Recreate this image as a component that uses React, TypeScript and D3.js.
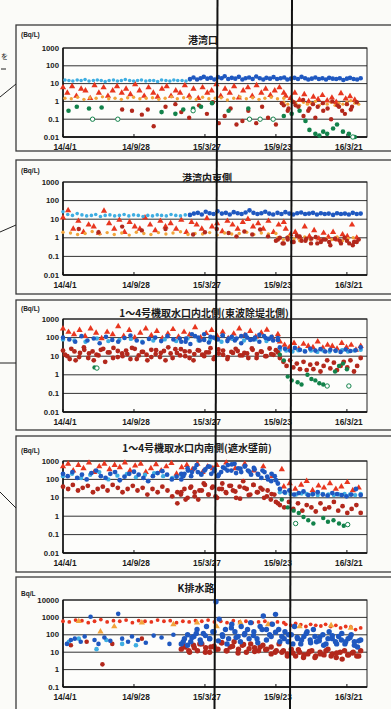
import React from 'react';
import * as d3 from 'd3';

// Monitoring data around the port (Bq/L, log scale)
// Each run = evenly spaced samples between two day offsets from 2014/4/1; pts = [day, value]

const START = new Date(2014, 3, 1);
const END = new Date(2016, 4, 11);
const X_TICK_DAYS = [0, 180, 360, 540, 720];
const X_TICK_LABELS = ['14/4/1', '14/9/28', '15/3/27', '15/9/23', '16/3/21'];

type Pt = [number, number];
type Run = { from: number; to: number; vals: number[] };

// ---- 港湾口 ----
const p1LightBlue: Run[] = [
  { from: 5, to: 322, vals: [16, 15, 14, 16, 15, 17, 14, 15, 16, 15, 13, 15, 16, 14, 15, 17, 15, 14, 15, 16, 14, 15, 15, 13, 16, 15, 14, 16, 15, 15, 14, 16] },
];
const p1Blue: Run[] = [
  { from: 322, to: 755, vals: [18, 22, 17, 20, 24, 19, 21, 17, 23, 20, 26, 18, 21, 19, 24, 17, 20, 22, 18, 25, 20, 17, 21, 19, 23, 18, 20, 22, 17, 19, 21, 18, 24, 20, 17, 19, 22, 18, 20, 17, 21, 19, 18, 20, 16, 19, 21, 18, 17, 20] },
];
const p1RedTri: Run[] = [
  { from: 0, to: 560, vals: [6, 3, 7, 2, 5, 4, 1.5, 8, 3, 6, 2, 4, 7, 3, 5, 2.5, 9, 4, 2, 6, 3, 1.8, 5, 7, 2, 4, 3, 8, 2, 5, 1.5, 6, 3, 4, 9, 2, 5, 3, 7, 1.6, 4, 6, 2, 8, 3, 5, 2.2, 4, 6, 3] },
  { from: 565, to: 740, vals: [2, 1.5, 3, 1.2, 2.5, 1, 1.8, 1.3, 2.2, 1.1, 1.6, 0.9, 2.8, 1.4, 1.9, 1.2] },
];
const p1Orange: Run[] = [
  { from: 5, to: 560, vals: [1.5, 1.4, 1.7, 1.3, 1.6, 1.5, 1.8, 1.4, 1.5, 1.3, 1.6, 1.7, 1.4, 1.5, 1.6, 1.3, 1.5, 1.8, 1.4, 1.6, 1.5, 1.3, 1.7, 1.4, 1.5, 1.6, 1.2, 1.5, 1.8, 1.4, 1.6, 1.3, 1.5, 1.7, 1.4, 1.5] },
  { from: 560, to: 750, vals: [0.9, 0.7, 1, 0.8, 0.6, 0.9, 0.7, 0.8, 1, 0.6, 0.8, 0.7, 0.9, 0.6, 0.8, 0.7, 0.9, 1.1, 0.8, 0.7] },
];
const p1DarkRed: Pt[] = [
  [150, 0.35], [175, 0.3], [200, 0.18], [215, 0.35], [230, 0.04], [260, 0.5], [285, 0.7], [300, 0.25], [320, 0.12], [345, 0.6],
  [365, 0.2], [380, 0.9], [395, 0.06], [410, 0.15], [425, 0.4], [440, 0.05], [455, 0.08], [470, 0.3], [490, 0.06], [505, 0.5],
  [520, 0.12], [540, 0.05], [555, 0.8], [570, 0.3], [590, 0.6], [610, 0.15], [625, 0.4], [640, 0.12], [660, 0.3], [680, 0.1],
  [700, 0.5], [715, 0.2], [730, 0.35],
];
const p1DarkRedLate: Run[] = [
  { from: 560, to: 745, vals: [0.6, 0.4, 0.9, 0.5, 1.2, 0.3, 0.7, 0.5, 0.8, 0.4, 1, 0.6, 0.3, 0.7, 0.5, 0.9] },
];
const p1Green: Pt[] = [
  [14, 0.3], [35, 0.5], [66, 0.4], [98, 0.45], [250, 0.25], [285, 0.2], [305, 0.35], [330, 0.4], [350, 0.5], [378, 0.8],
  [420, 0.3], [470, 0.4], [560, 0.15], [580, 0.2], [600, 0.3], [615, 0.08], [625, 0.025], [640, 0.015], [650, 0.012],
  [660, 0.02], [670, 0.015], [685, 0.03], [695, 0.05], [710, 0.02], [725, 0.015], [740, 0.01],
];
const p1GreenOpen: Pt[] = [[75, 0.1], [139, 0.1], [330, 0.3], [473, 0.1], [500, 0.1], [533, 0.1], [735, 0.01]];

// ---- 港湾内東側 ----
const p2LightBlue: Run[] = [
  { from: 0, to: 322, vals: [25, 18, 16, 20, 17, 15, 16, 18, 14, 16, 17, 15, 16, 18, 15, 17, 16, 14, 16, 15, 17, 16, 15, 18, 16, 15, 17, 16] },
];
const p2Blue: Run[] = [
  { from: 322, to: 755, vals: [17, 20, 22, 18, 25, 21, 19, 27, 20, 22, 18, 24, 21, 19, 23, 30, 22, 19, 21, 25, 20, 18, 22, 19, 24, 20, 18, 21, 23, 19, 20, 22, 18, 21, 19, 20, 17, 21, 19, 20, 18, 22, 19, 20] },
];
const p2RedTri: Run[] = [
  { from: 0, to: 560, vals: [12, 30, 3, 8, 2, 5, 4, 1.8, 28, 6, 3, 9, 2, 7, 4, 3, 12, 5, 2.5, 8, 4, 6, 3, 9, 2, 7, 5, 3, 11, 4, 6, 2.2, 8, 5, 3, 7, 10, 4, 6, 3, 8, 2, 5, 7] },
  { from: 565, to: 745, vals: [3, 1.5, 2, 1, 4, 1.2, 2.5, 0.9, 1.8, 1.1, 2, 0.8, 1.5, 1.2, 5, 1] },
];
const p2Orange: Run[] = [
  { from: 0, to: 540, vals: [2, 1.8, 1.5, 1.7, 2.2, 1.6, 1.9, 1.5, 1.8, 1.4, 2, 1.7, 1.5, 1.9, 1.6, 1.8, 2.1, 1.5, 1.7, 1.6, 1.9, 1.4, 1.8, 1.6, 1.7, 2, 1.5, 1.8, 1.6, 1.7] },
  { from: 545, to: 750, vals: [1, 0.8, 1.2, 0.9, 0.7, 1.1, 0.8, 1, 0.6, 0.9, 0.8, 1.1, 0.7, 0.9, 1, 0.8] },
];
const p2DarkRed: Pt[] = [
  [40, 3], [90, 2], [150, 4], [200, 2.5], [260, 3], [330, 1.5], [360, 2], [390, 3], [420, 1.8], [440, 1.2], [460, 2.2],
  [480, 1.5], [500, 2.8], [520, 1.2], [540, 0.7], [550, 1], [560, 0.5], [570, 0.8], [585, 0.6], [600, 1.2], [615, 0.7],
  [630, 0.9], [645, 0.5], [660, 0.8], [675, 0.6], [690, 0.9], [705, 0.5], [720, 0.7], [735, 0.4], [745, 0.6],
];
const p2DarkRedLate: Run[] = [
  { from: 545, to: 750, vals: [0.8, 0.5, 1, 0.6, 1.3, 0.7, 0.9, 0.5, 1.1, 0.6, 0.8, 0.4, 0.9, 0.7, 1, 0.5, 0.6, 0.8] },
];

// ---- 1～4号機取水口内北側(東波除堤北側) ----
const p3RedTri: Run[] = [
  { from: 0, to: 545, vals: [300, 200, 150, 250, 120, 300, 180, 90, 200, 150, 400, 120, 250, 100, 180, 300, 130, 220, 90, 160, 280, 110, 200, 140, 350, 100, 170, 250, 120, 200, 90, 160, 300, 130, 220, 110, 180, 260, 100, 150] },
  { from: 550, to: 755, vals: [60, 40, 30, 50, 25, 45, 35, 30, 60, 28, 40, 35, 25, 50, 30, 40, 22, 35] },
];
const p3Blue: Run[] = [
  { from: 0, to: 545, vals: [100, 80, 60, 120, 70, 90, 50, 110, 75, 60, 95, 130, 70, 55, 85, 100, 65, 120, 80, 90, 60, 150, 100, 75, 110, 85, 130, 90, 70, 120, 100, 80, 140, 95, 110, 75] },
  { from: 300, to: 545, vals: [60, 90, 45, 120, 70, 150, 55, 100, 80, 130, 65, 110, 90, 50, 140, 75, 100, 60, 120, 85, 70, 95] },
  { from: 550, to: 755, vals: [30, 25, 20, 28, 22, 18, 25, 20, 24, 18, 22, 20, 17, 23, 19, 21, 30] },
];
const p3LightBlue: Run[] = [
  { from: 0, to: 545, vals: [80, 70, 60, 90, 65, 75, 85, 60, 70, 80, 65, 90, 70, 75, 60, 85, 70, 80, 65, 75] },
  { from: 550, to: 755, vals: [22, 20, 18, 21, 19, 20, 17, 20, 18, 19, 21, 18, 20, 22] },
];
const p3DarkRed: Run[] = [
  { from: 0, to: 545, vals: [20, 10, 25, 6, 15, 30, 8, 18, 12, 22, 5, 16, 28, 9, 14, 20, 7, 25, 11, 17, 6, 22, 13, 9, 19, 30, 8, 15, 24, 10, 18, 6, 21, 12, 16, 27, 9, 14, 20, 7, 17, 25, 11, 15, 8, 22, 13, 18, 10, 26, 12, 16] },
  { from: 5, to: 540, vals: [12, 7, 18, 9, 22, 14, 6, 11, 25, 16, 8, 19, 10, 13, 28, 7, 17, 12, 9, 21, 15, 6, 14, 24, 11, 18, 8, 13, 20, 10, 16, 7, 23, 12, 9, 15, 19, 11, 14, 26, 8, 17, 10, 13, 21] },
  { from: 550, to: 755, vals: [8, 5, 3, 6, 2.5, 4, 2, 5, 1.8, 3.5, 2, 4, 1.5, 3, 6, 2.2, 4.5, 1.8, 3, 5, 2.5, 6, 1.5, 3, 8] },
];
const p3Green: Pt[] = [
  [80, 2.5], [550, 12], [560, 6], [570, 0.8], [580, 0.5], [595, 0.4], [605, 0.3], [620, 1], [630, 0.6], [640, 0.5],
  [650, 0.35], [660, 0.3], [690, 1.5], [700, 3], [710, 4], [720, 2],
];
const p3GreenOpen: Pt[] = [[86, 2.3], [670, 0.25], [725, 0.25]];

// ---- 1～4号機取水口内南側(遮水壁前) ----
const p4RedTri: Run[] = [
  { from: 0, to: 380, vals: [500, 700, 300, 600, 400, 800, 250, 500, 700, 350, 600, 450, 800, 300, 550, 700, 250, 400, 650, 300, 500, 750, 200, 450, 600, 350, 700, 250, 500, 400] },
  { from: 390, to: 555, vals: [600, 800, 400, 700, 300, 500, 150, 350] },
  { from: 560, to: 750, vals: [40, 60, 30, 50, 80, 25, 45, 35, 60, 30, 40, 70, 25, 35] },
];
const p4Blue: Run[] = [
  { from: 0, to: 300, vals: [200, 150, 250, 120, 180, 100, 220, 300, 150, 120, 200, 250, 90, 140, 200, 260, 180, 120, 80, 150, 220, 280, 180, 100, 140, 200] },
  { from: 300, to: 545, vals: [100, 200, 300, 150, 400, 250, 180, 300, 500, 200, 350, 150, 250, 400, 600, 300, 700, 400, 250, 500, 300, 180, 350, 200, 120, 250, 100, 80, 150, 60] },
  { from: 305, to: 540, vals: [150, 400, 250, 600, 200, 350, 500, 280, 180, 450, 300, 650, 220, 380, 550, 260, 420, 180, 300, 140, 200, 90] },
  { from: 550, to: 755, vals: [30, 20, 25, 15, 18, 22, 14, 16, 20, 15, 13, 18, 16, 14, 12, 15, 30, 14] },
];
const p4LightBlue: Run[] = [
  { from: 0, to: 300, vals: [150, 200, 120, 180, 250, 100, 160, 200, 130, 180, 220, 150, 120, 170] },
  { from: 550, to: 755, vals: [20, 18, 16, 15, 17, 16, 15, 14, 16, 15, 14, 15, 16, 15, 14, 16] },
];
const p4DarkRed: Run[] = [
  { from: 0, to: 290, vals: [40, 30, 50, 25, 35, 45, 20, 30, 40, 25, 50, 35, 20, 30, 45, 25, 35, 15, 30, 20, 40, 25, 12, 20] },
  { from: 290, to: 545, vals: [5, 15, 30, 10, 40, 20, 8, 25, 50, 15, 35, 12, 30, 60, 20, 45, 25, 10, 40, 80, 30, 15, 50, 20, 35, 10, 25, 8, 15, 5] },
  { from: 300, to: 540, vals: [20, 8, 35, 12, 25, 60, 15, 40, 10, 30, 18, 45, 22, 9, 35, 14, 50, 20, 28, 12, 16, 6] },
  { from: 550, to: 755, vals: [4, 3, 6, 2.5, 5, 2, 4, 3, 1.8, 5, 2.5, 3, 6, 2, 3.5, 1.5, 2.5, 4, 1.5] },
];
const p4Green: Pt[] = [
  [555, 8], [570, 3], [585, 2], [598, 1.5], [610, 0.9], [622, 0.6], [635, 0.4], [660, 0.8], [672, 0.5], [686, 0.6], [700, 0.4], [712, 0.3],
];
const p4GreenOpen: Pt[] = [[590, 0.4], [722, 0.35]];

// ---- K排水路 ----
const p5Red: Run[] = [
  { from: 0, to: 560, vals: [600, 550, 700, 650, 500, 600, 750, 550, 650, 600, 700, 500, 650, 600, 550, 700, 600, 650, 500, 600, 550, 650, 600, 700, 550, 600, 500, 650, 550, 600, 500, 550, 600, 450, 550, 500] },
  { from: 565, to: 755, vals: [400, 350, 450, 380, 300, 400, 350, 320, 400, 300, 350, 250, 300, 280, 200, 250] },
];
const p5Orange: Pt[] = [[40, 600], [95, 150], [130, 300], [200, 500], [280, 400], [340, 500], [390, 300], [450, 500], [520, 400], [600, 300], [680, 350], [730, 250]];
const p5BlueEarly: Pt[] = [
  [10, 30], [20, 50], [30, 60], [45, 40], [55, 80], [70, 1100], [80, 50], [90, 30], [105, 70], [120, 45], [140, 1600],
  [150, 60], [165, 40], [175, 80], [190, 50], [210, 35], [230, 90], [250, 70], [270, 30], [280, 100],
];
const p5Blue: Run[] = [
  { from: 300, to: 755, vals: [30, 60, 100, 40, 80, 200, 50, 120, 300, 60, 150, 8000, 800, 100, 200, 60, 400, 150, 80, 300, 100, 200, 500, 150, 60, 300, 1200, 200, 100, 400, 1500, 200, 80, 150, 40, 100, 300, 60, 30, 80, 150, 50, 200, 40, 70, 100, 30, 150, 60, 40, 80, 120, 30, 60, 100, 40, 20, 50] },
  { from: 305, to: 750, vals: [40, 25, 70, 120, 35, 90, 60, 150, 45, 80, 30, 250, 70, 40, 120, 60, 90, 35, 200, 50, 80, 140, 40, 60, 100, 30, 70, 50, 120, 35, 80, 45, 25, 60, 90, 30, 50, 40, 70, 25, 45] },
];
const p5DarkRed: Run[] = [
  { from: 300, to: 755, vals: [15, 20, 10, 25, 12, 30, 18, 10, 22, 15, 35, 12, 20, 40, 15, 25, 10, 30, 18, 12, 25, 15, 20, 10, 30, 12, 8, 15, 6, 10, 5, 8, 12, 6, 10, 7, 15, 8, 5, 10, 12, 7, 9, 6, 12] },
  { from: 305, to: 750, vals: [25, 12, 18, 30, 10, 20, 15, 35, 12, 22, 9, 28, 16, 11, 20, 14, 8, 12, 10, 6, 9, 14, 7, 11, 5, 8, 12, 6, 9, 4, 7, 10, 6] },
];
const p5DarkRedEarly: Pt[] = [[20, 25], [60, 40], [100, 2], [125, 30], [200, 60]];
const p5LightBlue: Pt[] = [[15, 40], [40, 60], [85, 15], [110, 50], [150, 30], [185, 25]];

const C = {
  red: '#e8361f',
  orange: '#f2a43a',
  darkRed: '#b3281c',
  blue: '#1f58c0',
  lightBlue: '#3eaee2',
  green: '#12824a',
};

type Kind = 'dot' | 'tri' | 'open';
interface Series { kind: Kind; color: string; runs?: Run[]; pts?: Pt[]; r?: number }
interface Panel {
  title: string; unit: string; frame: [number, number]; plot: [number, number];
  domain: [number, number]; titleX: number; titleY: number; unitY: number; series: Series[];
}

const panels: Panel[] = [
  {
    title: '港湾口', unit: '(Bq/L)', frame: [25, 151], plot: [48, 137], domain: [0.01, 1000], titleX: 203, titleY: 44, unitY: 37,
    series: [
      { kind: 'tri', color: C.red, runs: p1RedTri },
      { kind: 'dot', color: C.orange, runs: p1Orange, r: 1.7 },
      { kind: 'dot', color: C.lightBlue, runs: p1LightBlue, r: 1.8 },
      { kind: 'dot', color: C.blue, runs: p1Blue, r: 2.3 },
      { kind: 'dot', color: C.darkRed, pts: p1DarkRed },
      { kind: 'dot', color: C.darkRed, runs: p1DarkRedLate },
      { kind: 'dot', color: C.green, pts: p1Green, r: 2.3 },
      { kind: 'open', color: C.green, pts: p1GreenOpen },
    ],
  },
  {
    title: '港湾内東側', unit: '(Bq/L)', frame: [160, 294], plot: [182, 275], domain: [0.01, 1000], titleX: 207, titleY: 182, unitY: 173,
    series: [
      { kind: 'tri', color: C.red, runs: p2RedTri },
      { kind: 'dot', color: C.orange, runs: p2Orange, r: 1.7 },
      { kind: 'dot', color: C.lightBlue, runs: p2LightBlue, r: 1.8 },
      { kind: 'dot', color: C.blue, runs: p2Blue, r: 2.3 },
      { kind: 'dot', color: C.darkRed, pts: p2DarkRed },
      { kind: 'dot', color: C.darkRed, runs: p2DarkRedLate },
    ],
  },
  {
    title: '1～4号機取水口内北側(東波除堤北側)', unit: '(Bq/L)', frame: [300, 430], plot: [319, 412], domain: [0.01, 1000], titleX: 204, titleY: 317, unitY: 311,
    series: [
      { kind: 'tri', color: C.red, runs: p3RedTri },
      { kind: 'dot', color: C.lightBlue, runs: p3LightBlue, r: 2.2 },
      { kind: 'dot', color: C.blue, runs: p3Blue, r: 2.3 },
      { kind: 'dot', color: C.darkRed, runs: p3DarkRed, r: 2.4 },
      { kind: 'dot', color: C.green, pts: p3Green, r: 2.2 },
      { kind: 'open', color: C.green, pts: p3GreenOpen },
    ],
  },
  {
    title: '1～4号機取水口内南側(遮水壁前)', unit: '(Bq/L)', frame: [436, 572], plot: [461, 553], domain: [0.01, 1000], titleX: 197, titleY: 452, unitY: 453,
    series: [
      { kind: 'tri', color: C.red, runs: p4RedTri },
      { kind: 'dot', color: C.lightBlue, runs: p4LightBlue, r: 2.2 },
      { kind: 'dot', color: C.blue, runs: p4Blue, r: 2.4 },
      { kind: 'dot', color: C.darkRed, runs: p4DarkRed, r: 2.4 },
      { kind: 'dot', color: C.green, pts: p4Green, r: 2.2 },
      { kind: 'open', color: C.green, pts: p4GreenOpen },
    ],
  },
  {
    title: 'K排水路', unit: 'Bq/L', frame: [577, 720], plot: [600, 687], domain: [0.1, 10000], titleX: 196, titleY: 592, unitY: 596,
    series: [
      { kind: 'dot', color: C.red, runs: p5Red, r: 1.9 },
      { kind: 'tri', color: C.orange, pts: p5Orange },
      { kind: 'dot', color: C.lightBlue, pts: p5LightBlue, r: 2.3 },
      { kind: 'dot', color: C.darkRed, runs: p5DarkRed, r: 2.7 },
      { kind: 'dot', color: C.darkRed, pts: p5DarkRedEarly, r: 2.3 },
      { kind: 'dot', color: C.blue, pts: p5BlueEarly, r: 2.3 },
      { kind: 'dot', color: C.blue, runs: p5Blue, r: 2.7 },
    ],
  },
];

const x = d3.scaleTime().domain([START, END]).range([63, 367]);
const dayX = (d: number) => x(d3.timeDay.offset(START, Math.round(d)));
const tri = d3.symbol(d3.symbolTriangle, 17);

function seriesPoints(s: Series): Pt[] {
  const out: Pt[] = s.pts ? [...s.pts] : [];
  (s.runs || []).forEach((run) => {
    const n = run.vals.length;
    run.vals.forEach((v, i) => out.push([run.from + ((run.to - run.from) * i) / Math.max(1, n - 1), v]));
  });
  return out;
}

const ChartPanel: React.FC<{ p: Panel }> = ({ p }) => {
  const [top, bottom] = p.plot;
  const y = d3.scaleLog().domain(p.domain).range([bottom, top]);
  const ticks = y.ticks().filter((t) => Math.abs(Math.log10(t) - Math.round(Math.log10(t))) < 1e-9);
  const [x0, x1] = x.range();
  return (
    <g>
      <rect x={16} y={p.frame[0]} width={390} height={p.frame[1] - p.frame[0]} fill="none" stroke="#3a3a3a" strokeWidth={1.3} />
      <text x={21} y={p.unitY} fontSize={6.5} fontWeight="bold" fill="#222">{p.unit}</text>
      <text x={p.titleX} y={p.titleY} textAnchor="middle" fontSize={10} fontWeight="bold"
        fontFamily="'Noto Sans CJK JP', sans-serif" fill="#1a1a1a">{p.title}</text>
      <rect x={x0} y={top} width={x1 - x0} height={bottom - top} fill="#fdfdfb" stroke="#222" strokeWidth={1} />
      {ticks.map((t) => (
        <g key={t}>
          <line x1={x0} x2={x1} y1={y(t)} y2={y(t)} stroke="#1c1c1c" strokeWidth={0.9} />
          <text x={59} y={y(t) + 2.5} textAnchor="end" fontSize={7.8} fontWeight="bold" fill="#1a1a1a">{String(t)}</text>
        </g>
      ))}
      <line x1={x0} x2={x0} y1={top} y2={bottom} stroke="#111" strokeWidth={1.5} />
      <line x1={x0} x2={x1} y1={bottom} y2={bottom} stroke="#111" strokeWidth={1.3} />
      {X_TICK_DAYS.map((d, i) => (
        <g key={d}>
          <line x1={dayX(d)} x2={dayX(d)} y1={bottom} y2={bottom - 3} stroke="#111" strokeWidth={1} />
          <text x={dayX(d) + 2} y={bottom + 13} textAnchor="middle" fontSize={8.3} fontWeight="bold" fill="#1a1a1a">
            {X_TICK_LABELS[i]}
          </text>
        </g>
      ))}
      {p.series.map((s, si) => (
        <g key={si}>
          {seriesPoints(s).map(([d, v], i) => {
            const cx = dayX(d);
            const cy = y(v);
            if (s.kind === 'tri')
              return <path key={i} d={tri() || ''} transform={`translate(${cx},${cy})`} fill={s.color} />;
            if (s.kind === 'open')
              return <circle key={i} cx={cx} cy={cy} r={2.2} fill="#fff" stroke={s.color} strokeWidth={1} />;
            return <circle key={i} cx={cx} cy={cy} r={s.r ?? 2.2} fill={s.color} />;
          })}
        </g>
      ))}
    </g>
  );
};

export default function App() {
  return (
    <svg width={391} height={709} style={{ position: 'absolute', left: 0, top: 0 }}
      fontFamily="'Liberation Sans', Arial, sans-serif">
      <rect width={391} height={709} fill="#fbfbf8" />
      {panels.map((p, i) => <ChartPanel key={i} p={p} />)}
      {/* connector lines from the page text on the left */}
      <line x1={0} y1={97} x2={16} y2={84} stroke="#222" strokeWidth={1} />
      <line x1={0} y1={232} x2={16} y2={225} stroke="#222" strokeWidth={1} />
      <line x1={0} y1={363} x2={16} y2={363} stroke="#222" strokeWidth={1} />
      <line x1={0} y1={492} x2={16} y2={508} stroke="#222" strokeWidth={1} />
      <text x={1} y={59} fontSize={7} fontFamily="'Noto Sans CJK JP', sans-serif" fill="#222">を</text>
      <line x1={1} y1={69} x2={6} y2={69} stroke="#222" strokeWidth={1} />
      {/* hand-drawn vertical marker lines across all panels */}
      <line x1={217.5} y1={0} x2={214.5} y2={709} stroke="#111" strokeWidth={2} />
      <line x1={292} y1={0} x2={290} y2={709} stroke="#111" strokeWidth={2} />
    </svg>
  );
}
